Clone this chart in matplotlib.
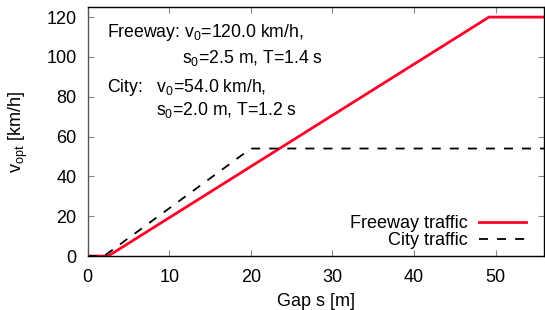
import numpy as np
import matplotlib
matplotlib.use('Agg')
import matplotlib.pyplot as plt

plt.rcParams['font.family'] = ['Liberation Sans', 'DejaVu Sans']
plt.rcParams['mathtext.fontset'] = 'custom'
plt.rcParams['mathtext.rm'] = 'Liberation Sans'
plt.rcParams['mathtext.it'] = 'Liberation Sans'

# breakpoints of the optimal velocity curves
gap_fw = [0, 2.5, 49.2, 56]
v_fw = [0, 0, 120, 120]
gap_city = [0, 2.0, 20.0, 56]
v_city = [0, 0, 54, 54]

xticks = [0, 10, 20, 30, 40, 50]
yticks = [0, 20, 40, 60, 80, 100, 120]

fs = 13
fig = plt.figure(figsize=(5.45, 3.10), dpi=100)
ax = fig.add_axes([0.161, 0.174, 0.838, 0.803])

ax.plot(gap_fw, v_fw, color='#ff0028', lw=2.0, label='Freeway traffic')
ax.plot(gap_city, v_city, color='black', lw=1.3, dashes=(5, 5),
        label='City traffic')

ax.set_xlim(0, 56)
ax.set_ylim(0, 125)
ax.set_xticks(xticks)
ax.set_yticks(yticks)
ax.tick_params(direction='in', length=4, labelsize=fs, top=True, right=True,
               color='#888888')
ax.tick_params(axis='x', pad=9)
ax.tick_params(axis='y', pad=8)
for s in ax.spines.values():
    s.set_linewidth(1.0)
ax.spines['left'].set_color('#555555')

ax.set_xlabel('Gap s [m]', fontsize=fs, labelpad=5)
ax.set_ylabel('v$_{\\rm opt}$ [km/h]', fontsize=fs, labelpad=12)

tf = 12.7
ax.text(2.4, 110.0, 'Freeway: v$_0$=120.0 km/h,', fontsize=tf, va='baseline')
ax.text(11.5, 96.9, 's$_0$=2.5 m, T=1.4 s', fontsize=tf, va='baseline')
ax.text(2.4, 82.3, 'City:   v$_0$=54.0 km/h,', fontsize=tf, va='baseline')
ax.text(8.4, 70.8, 's$_0$=2.0 m, T=1.2 s', fontsize=tf, va='baseline')

ax.legend(loc='lower right', bbox_to_anchor=(0.987, -0.022), frameon=False,
          markerfirst=False, fontsize=fs, handlelength=2.6,
          labelspacing=0.0, handletextpad=0.6, borderpad=0.2)

fig.savefig('out.png', dpi=100)
